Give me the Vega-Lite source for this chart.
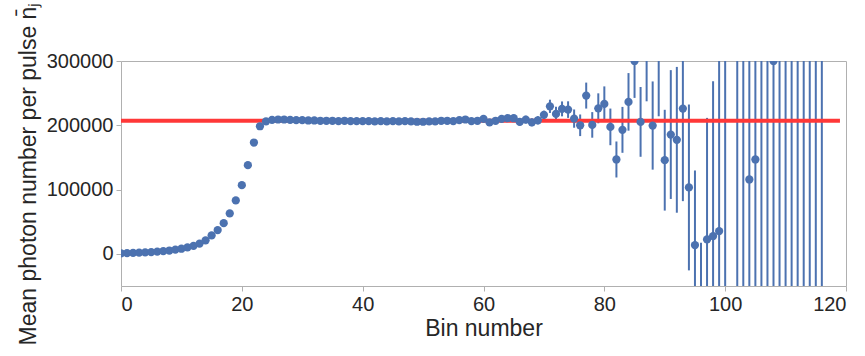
{
  "$schema": "https://vega.github.io/schema/vega-lite/v6.json",
  "width": 725,
  "height": 225,
  "autosize": "none",
  "padding": {"left": 121, "top": 61, "right": 19, "bottom": 70},
  "background": "white",
  "config": {
    "view": {"stroke": "#b0b0b0", "strokeWidth": 1},
    "font": "Liberation Sans",
    "axis": {
      "domain": false,
      "grid": false,
      "ticks": true,
      "tickSize": 5,
      "tickColor": "#b0b0b0",
      "labelFontSize": 20,
      "labelColor": "#262626",
      "labelPadding": 3,
      "titleFontSize": 23,
      "titleFontWeight": "normal",
      "titleColor": "#262626"
    }
  },
  "datasets": {
    "bins": [
      {"bin": 0, "n": 900, "err": 50},
      {"bin": 1, "n": 1200, "err": 60},
      {"bin": 2, "n": 1500, "err": 70},
      {"bin": 3, "n": 1900, "err": 80},
      {"bin": 4, "n": 2300, "err": 90},
      {"bin": 5, "n": 2800, "err": 100},
      {"bin": 6, "n": 3400, "err": 110},
      {"bin": 7, "n": 4200, "err": 130},
      {"bin": 8, "n": 5200, "err": 150},
      {"bin": 9, "n": 6500, "err": 170},
      {"bin": 10, "n": 8000, "err": 200},
      {"bin": 11, "n": 10000, "err": 230},
      {"bin": 12, "n": 12500, "err": 260},
      {"bin": 13, "n": 16000, "err": 300},
      {"bin": 14, "n": 21000, "err": 350},
      {"bin": 15, "n": 28700, "err": 400},
      {"bin": 16, "n": 37000, "err": 450},
      {"bin": 17, "n": 47800, "err": 500},
      {"bin": 18, "n": 62900, "err": 600},
      {"bin": 19, "n": 83100, "err": 700},
      {"bin": 20, "n": 106800, "err": 800},
      {"bin": 21, "n": 137900, "err": 900},
      {"bin": 22, "n": 173200, "err": 1000},
      {"bin": 23, "n": 198500, "err": 1100},
      {"bin": 24, "n": 206200, "err": 1200},
      {"bin": 25, "n": 208500, "err": 1200},
      {"bin": 26, "n": 209000, "err": 1200},
      {"bin": 27, "n": 209000, "err": 1200},
      {"bin": 28, "n": 208500, "err": 1200},
      {"bin": 29, "n": 208000, "err": 1200},
      {"bin": 30, "n": 208000, "err": 1300},
      {"bin": 31, "n": 207500, "err": 1300},
      {"bin": 32, "n": 207500, "err": 1300},
      {"bin": 33, "n": 207000, "err": 1300},
      {"bin": 34, "n": 207000, "err": 1300},
      {"bin": 35, "n": 207000, "err": 1400},
      {"bin": 36, "n": 206500, "err": 1400},
      {"bin": 37, "n": 207000, "err": 1400},
      {"bin": 38, "n": 206500, "err": 1400},
      {"bin": 39, "n": 206500, "err": 1500},
      {"bin": 40, "n": 206500, "err": 1500},
      {"bin": 41, "n": 206500, "err": 1500},
      {"bin": 42, "n": 206000, "err": 1600},
      {"bin": 43, "n": 206500, "err": 1600},
      {"bin": 44, "n": 206000, "err": 1700},
      {"bin": 45, "n": 206500, "err": 1700},
      {"bin": 46, "n": 206000, "err": 1800},
      {"bin": 47, "n": 206500, "err": 1900},
      {"bin": 48, "n": 206000, "err": 2000},
      {"bin": 49, "n": 205500, "err": 2100},
      {"bin": 50, "n": 205500, "err": 2200},
      {"bin": 51, "n": 206000, "err": 2300},
      {"bin": 52, "n": 206000, "err": 2400},
      {"bin": 53, "n": 207000, "err": 2500},
      {"bin": 54, "n": 207000, "err": 2600},
      {"bin": 55, "n": 206500, "err": 2800},
      {"bin": 56, "n": 208000, "err": 3000},
      {"bin": 57, "n": 209000, "err": 3200},
      {"bin": 58, "n": 206500, "err": 3400},
      {"bin": 59, "n": 207000, "err": 3600},
      {"bin": 60, "n": 210000, "err": 3800},
      {"bin": 61, "n": 204500, "err": 4000},
      {"bin": 62, "n": 207000, "err": 4300},
      {"bin": 63, "n": 210000, "err": 4600},
      {"bin": 64, "n": 211000, "err": 4900},
      {"bin": 65, "n": 211000, "err": 5200},
      {"bin": 66, "n": 205300, "err": 5600},
      {"bin": 67, "n": 208900, "err": 6000},
      {"bin": 68, "n": 204700, "err": 6200},
      {"bin": 69, "n": 207800, "err": 6400},
      {"bin": 70, "n": 216200, "err": 6500},
      {"bin": 71, "n": 229500, "err": 10300},
      {"bin": 72, "n": 217700, "err": 11100},
      {"bin": 73, "n": 225500, "err": 11600},
      {"bin": 74, "n": 224400, "err": 12900},
      {"bin": 75, "n": 210400, "err": 14200},
      {"bin": 76, "n": 200000, "err": 16800},
      {"bin": 77, "n": 246200, "err": 20200},
      {"bin": 78, "n": 200600, "err": 19900},
      {"bin": 79, "n": 226400, "err": 23300},
      {"bin": 80, "n": 233300, "err": 27200},
      {"bin": 81, "n": 197500, "err": 28500},
      {"bin": 82, "n": 146800, "err": 28000},
      {"bin": 83, "n": 192900, "err": 35700},
      {"bin": 84, "n": 236400, "err": 44800},
      {"bin": 85, "n": 300000, "err": 57400},
      {"bin": 86, "n": 205300, "err": 54300},
      {"bin": 87, "n": 320000, "err": 82700},
      {"bin": 88, "n": 199600, "err": 68600},
      {"bin": 89, "n": 320000, "err": 106000},
      {"bin": 90, "n": 145700, "err": 78400},
      {"bin": 91, "n": 185600, "err": 100200},
      {"bin": 92, "n": 177400, "err": 113400},
      {"bin": 93, "n": 226000, "err": 144000},
      {"bin": 94, "n": 103300, "err": 129000},
      {"bin": 95, "n": 13700, "err": 116000},
      {"bin": 96, "n": -100000, "err": 117400},
      {"bin": 97, "n": 22500, "err": 189000},
      {"bin": 98, "n": 27600, "err": 240800},
      {"bin": 99, "n": 35400, "err": 300000},
      {"bin": 100, "n": 360000, "err": 460000},
      {"bin": 102, "n": -80000, "err": 420000},
      {"bin": 103, "n": 340000, "err": 430000},
      {"bin": 104, "n": 115700, "err": 320000},
      {"bin": 105, "n": 146800, "err": 330000},
      {"bin": 106, "n": -90000, "err": 450000},
      {"bin": 107, "n": 350000, "err": 470000},
      {"bin": 108, "n": 300000, "err": 380000},
      {"bin": 109, "n": -120000, "err": 480000},
      {"bin": 110, "n": 380000, "err": 500000},
      {"bin": 111, "n": -100000, "err": 470000},
      {"bin": 112, "n": 360000, "err": 520000},
      {"bin": 113, "n": -130000, "err": 500000},
      {"bin": 114, "n": 390000, "err": 540000},
      {"bin": 115, "n": -110000, "err": 490000},
      {"bin": 116, "n": 370000, "err": 520000}
    ],
    "mean": [{"x": 0, "x2": 119, "n": 207000}]
  },
  "layer": [
    {
      "data": {"name": "bins"},
      "mark": {"type": "errorbar", "color": "#4c72b0", "thickness": 2, "clip": true},
      "encoding": {
        "x": {"field": "bin", "type": "quantitative", "scale": {"domain": [0, 120], "nice": false}, "axis": {"title": "Bin number", "values": [0, 20, 40, 60, 80, 100, 120], "format": "d", "titlePadding": 3}},
        "y": {"field": "n", "type": "quantitative", "scale": {"domain": [-50000, 300000], "nice": false, "zero": false}, "axis": {"title": "Mean photon number per pulse n̄ⱼ", "values": [0, 100000, 200000, 300000], "format": "d", "titlePadding": 6}},
        "yError": {"field": "err"}
      }
    },
    {
      "data": {"name": "mean"},
      "mark": {"type": "rule", "color": "#ff3838", "strokeWidth": 4},
      "encoding": {
        "x": {"field": "x", "type": "quantitative", "axis": {"title": "Bin number", "values": [0, 20, 40, 60, 80, 100, 120], "format": "d", "titlePadding": 3}},
        "x2": {"field": "x2"},
        "y": {"field": "n", "type": "quantitative", "axis": {"title": "Mean photon number per pulse n̄ⱼ", "values": [0, 100000, 200000, 300000], "format": "d", "titlePadding": 6}}
      }
    },
    {
      "data": {"name": "bins"},
      "mark": {"type": "point", "filled": true, "size": 68, "color": "#4c72b0", "opacity": 1, "clip": true},
      "encoding": {
        "x": {"field": "bin", "type": "quantitative", "axis": {"title": "Bin number", "values": [0, 20, 40, 60, 80, 100, 120], "format": "d", "titlePadding": 3}},
        "y": {"field": "n", "type": "quantitative", "axis": {"title": "Mean photon number per pulse n̄ⱼ", "values": [0, 100000, 200000, 300000], "format": "d", "titlePadding": 6}}
      }
    }
  ]
}
